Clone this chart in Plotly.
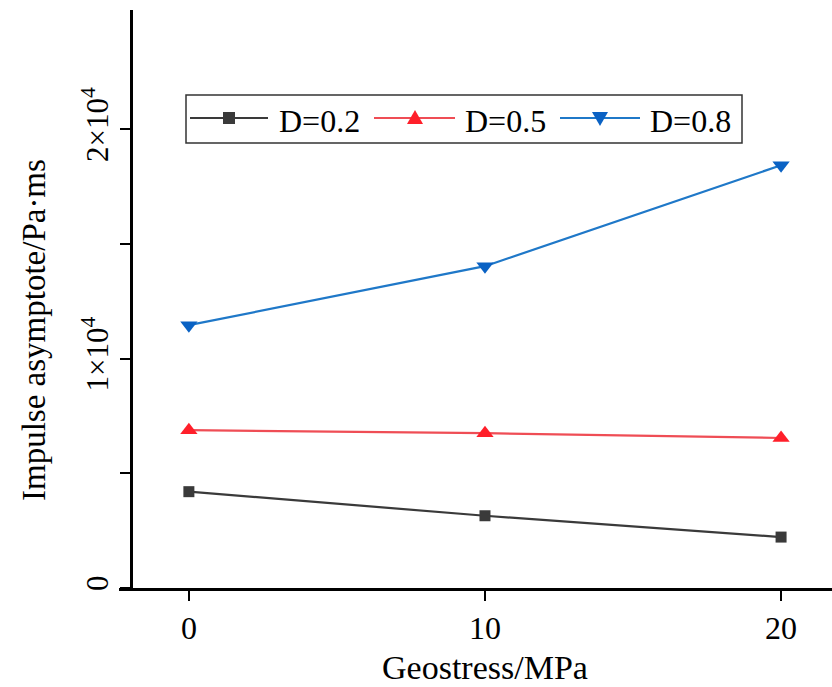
import plotly.graph_objects as go

geostress = [0, 10, 20]
d02 = [4200, 3150, 2220]
d05 = [6880, 6750, 6540]
d08 = [11460, 14030, 18430]
names = ["D=0.2", "D=0.5", "D=0.8"]
ytickvals = [0, 5000, 10000, 15000, 20000]
yticktext = ["0", "", "1×10<sup>4</sup>", "", "2×10<sup>4</sup>"]
xtickvals = [0, 10, 20]

FONT = "Liberation Serif"
W, H = 832, 687
ML, MR, MT, MB = 119, 0, 10, 99
PW, PH = W - ML - MR, H - MT - MB

def px(x):
    return (x - ML) / PW

def py(y):
    return (H - MB - y) / PH

line_colors = ["#3a3a3a", "#ef4d55", "#1f78c8"]
marker_colors = ["#3a3a3a", "#ff1f2a", "#0a62c4"]
symbols = ["square", "triangle-up", "triangle-down"]
sizes = [11, 15, 15]

fig = go.Figure()
for n, ys, lc, mc, sym, sz in zip(names, [d02, d05, d08], line_colors, marker_colors, symbols, sizes):
    fig.add_trace(go.Scatter(x=geostress, y=ys, mode="lines+markers", name=n,
                             line=dict(color=lc, width=2.2),
                             marker=dict(symbol=sym, size=sz, color=mc),
                             showlegend=False))

# manual legend (style only)
shapes = []
annotations = []
shapes.append(dict(type="rect", xref="paper", yref="paper", x0=px(186), x1=px(742),
                   y0=py(143), y1=py(95), line=dict(color="#333333", width=1.5),
                   fillcolor="white", layer="above"))
leg_y = 118
entries = [(190, 268, 229, 277), (374, 455, 415, 463), (560, 640, 600, 648)]
for (l0, l1, mx, tx), n, lc, mc, sym in zip(entries, names, line_colors, marker_colors, symbols):
    shapes.append(dict(type="line", xref="paper", yref="paper", x0=px(l0), x1=px(l1),
                       y0=py(leg_y), y1=py(leg_y), line=dict(color=lc, width=2), layer="above"))
    if sym == "square":
        shapes.append(dict(type="rect", xref="paper", yref="paper", x0=px(mx - 6), x1=px(mx + 6),
                           y0=py(leg_y + 6), y1=py(leg_y - 6), line=dict(width=0),
                           fillcolor=mc, layer="above"))
    elif sym == "triangle-up":
        path = f"M {px(mx-8)} {py(leg_y+6)} L {px(mx+8)} {py(leg_y+6)} L {px(mx)} {py(leg_y-8)} Z"
        shapes.append(dict(type="path", xref="paper", yref="paper", path=path,
                           line=dict(width=0), fillcolor=mc, layer="above"))
    else:
        path = f"M {px(mx-8)} {py(leg_y-6)} L {px(mx+8)} {py(leg_y-6)} L {px(mx)} {py(leg_y+8)} Z"
        shapes.append(dict(type="path", xref="paper", yref="paper", path=path,
                           line=dict(width=0), fillcolor=mc, layer="above"))
    annotations.append(dict(text=n, xref="paper", yref="paper", x=px(tx), y=py(leg_y + 3),
                            xanchor="left", yanchor="middle", showarrow=False,
                            font=dict(family=FONT, size=32, color="black")))

annotations += [
    dict(text="Geostress/MPa", xref="x", yref="paper", x=10, y=py(667),
         xanchor="center", yanchor="middle", showarrow=False,
         font=dict(family=FONT, size=34)),
    dict(text="Impulse asymptote/Pa·ms", xref="paper", yref="paper", x=px(34), y=py(330),
         xanchor="center", yanchor="middle", showarrow=False, textangle=-90,
         font=dict(family=FONT, size=33)),
]

fig.update_layout(
    width=W, height=H,
    margin=dict(l=ML, r=MR, t=MT, b=MB),
    paper_bgcolor="white", plot_bgcolor="white",
    font=dict(family=FONT, size=31, color="black"),
    showlegend=False,
    xaxis=dict(range=[-2.36, 21.72], tickvals=xtickvals, ticks="outside", ticklen=10,
               tickwidth=2, tickcolor="black", showline=True, linewidth=2.5, linecolor="black",
               showgrid=False, zeroline=False, tickfont=dict(family=FONT, size=32),
               ticklabeloverflow="allow"),
    yaxis=dict(range=[0, 25200], tickvals=ytickvals, ticktext=yticktext, ticks="outside",
               ticklen=10, tickwidth=2, tickcolor="black", showline=True, linewidth=2.5,
               linecolor="black", showgrid=False, zeroline=False, anchor="free",
               position=12 / PW, tickangle=-90, tickfont=dict(family=FONT, size=31)),
    shapes=shapes,
    annotations=annotations,
)

fig.write_html("out.html")
